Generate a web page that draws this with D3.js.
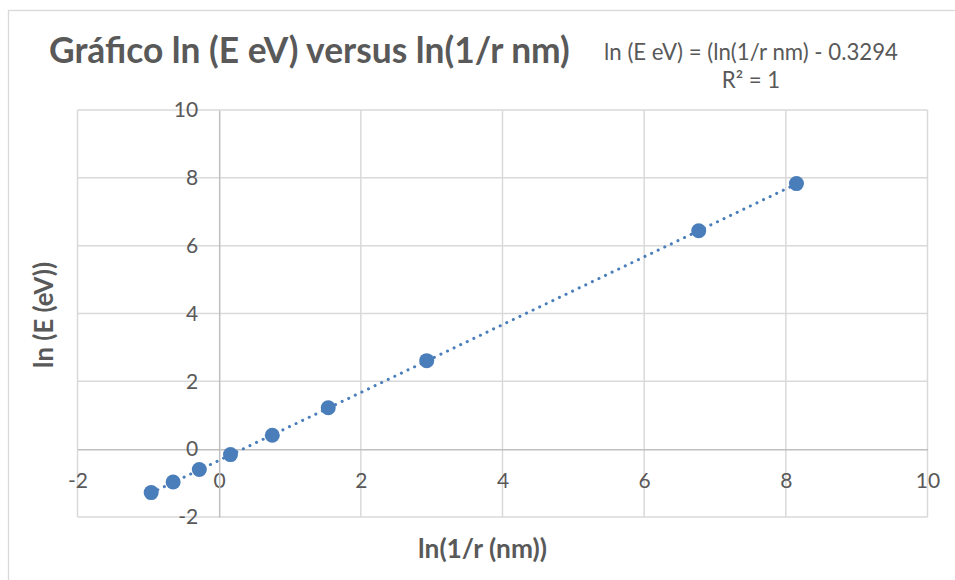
<!DOCTYPE html>
<html>
<head>
<meta charset="utf-8">
<script src="https://cdn.jsdelivr.net/npm/d3@7"></script>
<style>
  body { margin: 0; background: #fff; }
  text { font-family: Lato, "Open Sans", sans-serif; fill: #595959; }
</style>
</head>
<body>
<div id="chart"></div>
<script>
// Data
var xValues = [-0.96, -0.65, -0.28, 0.16, 0.75, 1.54, 2.93, 6.77, 8.15];
var yValues = [-1.28, -0.97, -0.60, -0.16, 0.41, 1.22, 2.61, 6.44, 7.83];
var xTicks = [-2, 0, 2, 4, 6, 8, 10];
var yTicks = [-2, 0, 2, 4, 6, 8, 10];
var trendSlope = 1;
var trendIntercept = -0.3294;

var svgWidth = 955;
var svgHeight = 580;

var svg = d3.select("#chart")
    .append("svg")
    .attr("width", svgWidth)
    .attr("height", svgHeight);

// chart border (runs off right and bottom edges)
svg.append("rect")
    .attr("x", 8.5).attr("y", 10.5)
    .attr("width", 960).attr("height", 600)
    .attr("fill", "none")
    .attr("stroke", "#d9d9d9")
    .attr("stroke-width", 1.3);

var margin = { top: 110, left: 77.5, right: 955 - 927.5, bottom: 580 - 517 };
var chartWidth = svgWidth - margin.left - margin.right;
var chartHeight = svgHeight - margin.top - margin.bottom;

var chartGroup = svg.append("g")
    .attr("transform", `translate(${margin.left}, ${margin.top})`);

var x_Scale = d3.scaleLinear().domain([-2, 10]).range([0, chartWidth]);
var y_Scale = d3.scaleLinear().domain([-2, 10]).range([chartHeight, 0]);

// gridlines
chartGroup.append("g").selectAll("line")
    .data(xTicks.filter(d => d !== 0))
    .enter().append("line")
    .attr("x1", d => x_Scale(d)).attr("x2", d => x_Scale(d))
    .attr("y1", 0).attr("y2", chartHeight)
    .attr("stroke", "#d9d9d9").attr("stroke-width", 1.5);

chartGroup.append("g").selectAll("line")
    .data(yTicks.filter(d => d !== 0))
    .enter().append("line")
    .attr("x1", 0).attr("x2", chartWidth)
    .attr("y1", d => y_Scale(d)).attr("y2", d => y_Scale(d))
    .attr("stroke", "#d9d9d9").attr("stroke-width", 1.5);

// axes crossing at zero, plain hyphen for negatives
var x_axis = d3.axisBottom(x_Scale).tickValues(xTicks).tickFormat(d => String(d)).tickSize(0).tickPadding(24);
var y_axis = d3.axisLeft(y_Scale).tickValues(yTicks).tickFormat(d => String(d)).tickSize(0).tickPadding(21);

var gx = chartGroup.append("g")
    .attr("transform", "translate(0, " + y_Scale(0) + ")")
    .call(x_axis);
var gy = chartGroup.append("g")
    .attr("transform", "translate(" + x_Scale(0) + ", 0)")
    .call(y_axis);

[gx, gy].forEach(function (g) {
    g.attr("font-size", null).attr("font-family", null);
    g.select(".domain").attr("stroke", "#bfbfbf").attr("stroke-width", 1.5);
    g.selectAll("text")
        .style("font-size", "21px")
        .style("font-family", "Lato, sans-serif")
        .attr("fill", "#595959");
});

// trendline (dotted)
var xExtent = d3.extent(xValues);
chartGroup.append("line")
    .attr("x1", x_Scale(xExtent[0]))
    .attr("y1", y_Scale(trendSlope * xExtent[0] + trendIntercept))
    .attr("x2", x_Scale(xExtent[1]))
    .attr("y2", y_Scale(trendSlope * xExtent[1] + trendIntercept))
    .attr("stroke", "#4a7ebb")
    .attr("stroke-width", 3)
    .attr("stroke-linecap", "round")
    .attr("stroke-dasharray", "0.1 7.2");

// points
chartGroup.selectAll("circle")
    .data(xValues)
    .enter()
    .append("circle")
    .attr("cx", d => x_Scale(d))
    .attr("cy", (d, i) => y_Scale(yValues[i]))
    .attr("r", 7.5)
    .attr("fill", "#4a7ebb");

// fits a text element to a target width by changing its font size
function fitText(sel, width) {
    var size = parseFloat(sel.style("font-size"));
    var len = sel.node().getComputedTextLength();
    sel.style("font-size", (size * width / len) + "px");
}

// title
var title = svg.append("text")
    .attr("x", 49).attr("y", 63)
    .style("font-size", "30px")
    .style("font-weight", "bold")
    .text("Gráfico ln (E eV) versus ln(1/r nm)");
fitText(title, 521);

// trendline equation
var eq = svg.append("text")
    .attr("x", 751).attr("y", 60)
    .attr("text-anchor", "middle")
    .style("font-size", "17px")
    .text("ln (E eV) = (ln(1/r nm) - 0.3294");
fitText(eq, 294);
svg.append("text")
    .attr("x", 751).attr("y", 88)
    .attr("text-anchor", "middle")
    .style("font-size", eq.style("font-size"))
    .text("R² = 1");

// axis titles
var xt = svg.append("text")
    .attr("x", 482.5).attr("y", 558)
    .attr("text-anchor", "middle")
    .style("font-size", "20px")
    .style("font-weight", "bold")
    .text("ln(1/r (nm))");
fitText(xt, 129);

var yt = svg.append("text")
    .attr("transform", "translate(53, 315) rotate(-90)")
    .attr("text-anchor", "middle")
    .style("font-size", "20px")
    .style("font-weight", "bold")
    .text("ln (E (eV))");
fitText(yt, 106);
</script>
</body>
</html>
